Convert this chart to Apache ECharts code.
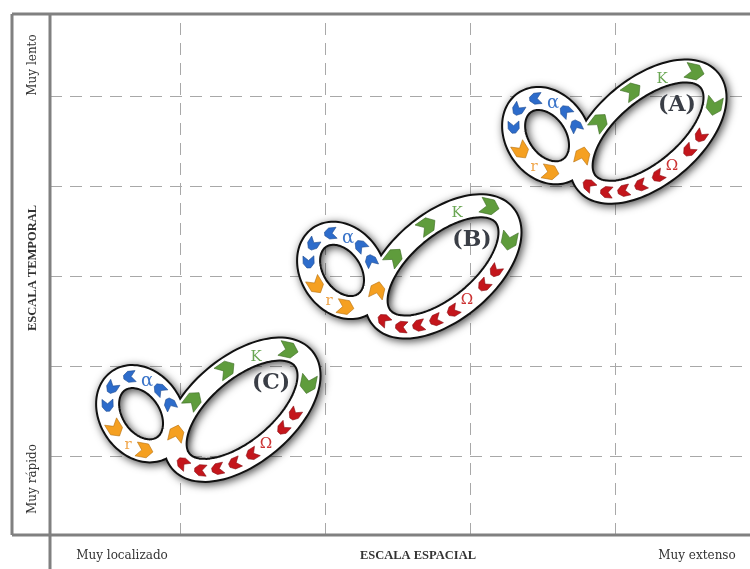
<!DOCTYPE html>
<html><head><meta charset="utf-8">
<script src="https://cdn.jsdelivr.net/npm/echarts@6/dist/echarts.min.js"></script>
<style>html,body{margin:0;padding:0;background:#fff}#c{width:750px;height:569px}</style>
</head><body><div id="c"></div>
<script>
// ---- data ----
const levelNames = ['(A)', '(B)', '(C)'];
const levelSpatial = [4.228, 2.814, 1.428];   // centre of the large lobe, spatial-scale units
const levelTemporal = [4.61, 3.11, 1.515];    // centre of the large lobe, temporal-scale units
const gridX = [1, 2, 3, 4];
const gridY = [1, 2, 3, 4, 5];
const phaseLabels = ['α', 'r', 'K', 'Ω'];
const xTickLabels = ['Muy localizado', 'ESCALA ESPACIAL', 'Muy extenso'];
const yTickLabels = ['Muy rápido', 'ESCALA TEMPORAL', 'Muy lento'];

// ---- drawing ----
const D = Math.PI / 180;
const COL = {
  blue: ['#2d6ccb', '#1c4a8f'], orange: ['#f5a021', '#b56e0e'],
  green: ['#5f9c3c', '#3b6a22'], red: ['#c4161c', '#8a0c10']
};
const smallArrows = [[282,'blue'],[256,'blue'],[202,'blue'],[162,'blue'],[130,'blue'],[93,'orange'],[36,'orange']];
const bigArrows = [[-145,'orange'],[-113,'green'],[-80,'green'],[-22,'green'],[33,'green'],
  [62,'red'],[76,'red'],[105,'red'],[120,'red'],[135,'red'],[152,'red'],[176,'red']];

function ellPoint(e, t) {
  const ca = Math.cos(e.rot), sa = Math.sin(e.rot);
  const ct = Math.cos(t), st = Math.sin(t);
  return [e.cx + e.a*ct*ca - e.b*st*sa, e.cy + e.a*ct*sa + e.b*st*ca];
}
function ellTan(e, t) {
  const ca = Math.cos(e.rot), sa = Math.sin(e.rot);
  const ct = Math.cos(t), st = Math.sin(t);
  return [-e.a*st*ca - e.b*ct*sa, -e.a*st*sa + e.b*ct*ca];
}
function ellipse(e) {
  const pts = [];
  for (let i = 0; i < 120; i++) pts.push(ellPoint(e, 2*Math.PI*i/120));
  return pts;
}
function arrow(e, tdeg, sign, col, s) {
  const t = tdeg*D;
  const p = ellPoint(e, t);
  const d = ellTan(e, t);
  const ang = Math.atan2(sign*d[1], sign*d[0]);
  const big = (col === 'green' || col === 'orange');
  const L = (col === 'green' ? 19 : big ? 17 : 12)*s, W = (col === 'green' ? 15 : big ? 14 : 11)*s;
  const loc = big
    ? [[-L/2,-W/2],[L/6,-W/2],[L/2,0],[L/6,W/2],[-L/2,W/2],[-L/6,0]]
    : [[-L/2,-W/2],[L/8,-W/2],[L/2,-W/6],[L/2,W/6],[L/8,W/2],[-L/2,W/2],[-L/8,0]];
  const c = Math.cos(ang), sn = Math.sin(ang);
  const pts = loc.map(q => [p[0] + q[0]*c - q[1]*sn, p[1] + q[0]*sn + q[1]*c]);
  return {type:'polygon', shape:{points:pts}, style:{fill:COL[col][0], stroke:COL[col][1], lineWidth:0.6}};
}

function renderLoop(params, api) {
  const c = api.coord([api.value(0), api.value(1)]);
  const s = api.size([1, 0])[0] / 145;
  const big = {cx:c[0], cy:c[1], a:80*s, b:42*s, rot:-40*D};
  const small = {cx:c[0]-101*s, cy:c[1]+4*s, a:40*s, b:30*s, rot:56*D};
  const children = [];
  [small, big].forEach(e => children.push({type:'polygon', shape:{points:ellipse(e)},
    style:{fill:'none', stroke:'#111', lineWidth:25*s, shadowBlur:9, shadowColor:'rgba(0,0,0,0.7)', shadowOffsetX:2, shadowOffsetY:2}}));
  [small, big].forEach(e => children.push({type:'polygon', shape:{points:ellipse(e)},
    style:{fill:'none', stroke:'#ffffff', lineWidth:21*s}}));
  smallArrows.forEach(a => children.push(arrow(small, a[0], -1, a[1], s)));
  bigArrows.forEach(a => children.push(arrow(big, a[0], 1, a[1], s)));
  const lab = [
    [phaseLabels[0], -95, -28, '#3a74c9', 18],
    [phaseLabels[1], -114, 35, '#f0a54a', 15],
    [phaseLabels[2], 14, -53, '#6aa653', 15],
    [phaseLabels[3], 24, 34, '#cc3333', 15]
  ];
  lab.forEach(l => children.push({type:'text', x:c[0]+l[1]*s, y:c[1]+l[2]*s,
    style:{text:l[0], fill:l[3], font:l[4]+'px "DejaVu Serif"', align:'center', verticalAlign:'middle'}}));
  children.push({type:'text', x:c[0]+29*s, y:c[1]-26*s,
    style:{text:api.value(2), fill:'#3a3e46', font:'bold 22px "DejaVu Serif"', align:'center', verticalAlign:'middle'}});
  return {type:'group', children};
}

const loopData = levelNames.map((n, i) => [levelSpatial[i], levelTemporal[i], n]);

const frame = '#808080';
const txt = (text, x, y, bold, rot) => ({type:'text', x, y, rotation: rot || 0, z: 100,
  style:{text, fill:'#333', font:(bold ? 'bold 12.5px "Liberation Serif"' : '12px "DejaVu Serif"'), align:'center', verticalAlign:'middle'}});
const ln = (x1, y1, x2, y2) => ({type:'line', z:100, shape:{x1, y1, x2, y2}, style:{stroke:frame, lineWidth:3}});

const chart = echarts.init(document.getElementById('c'), null, {renderer:'canvas'});
chart.setOption({
  animation: false,
  backgroundColor: '#fff',
  grid: {left:50, right:0, top:14, bottom:34},
  xAxis: {type:'value', min:0.1034, max:4.931, axisLine:{show:false}, axisTick:{show:false},
    axisLabel:{show:false}, splitLine:{show:false}},
  yAxis: {type:'value', min:0.1208, max:5.919, axisLine:{show:false}, axisTick:{show:false},
    axisLabel:{show:false}, splitLine:{show:false}},
  series: [
    {type:'line', data:[], z:1, silent:true,
      markLine:{symbol:['none','none'], silent:true, label:{show:false},
        lineStyle:{color:'#a8a8a8', width:1, type:[12, 8]},
        data: gridX.map(v => ({xAxis:v})).concat(gridY.map(v => ({yAxis:v})))}},
    {type:'custom', z:5, renderItem:renderLoop, data:loopData, silent:true}
  ],
  graphic: [
    ln(12, 14, 750, 14), ln(12, 14, 12, 535), ln(50, 14, 50, 569), ln(12, 535, 750, 535),
    txt(yTickLabels[2], 33, 65, false, Math.PI/2),
    txt(yTickLabels[1], 33, 268, true, Math.PI/2),
    txt(yTickLabels[0], 33, 479, false, Math.PI/2),
    txt(xTickLabels[0], 122, 556, false),
    txt(xTickLabels[1], 418, 556, true),
    txt(xTickLabels[2], 697, 556, false)
  ]
});
</script></body></html>
